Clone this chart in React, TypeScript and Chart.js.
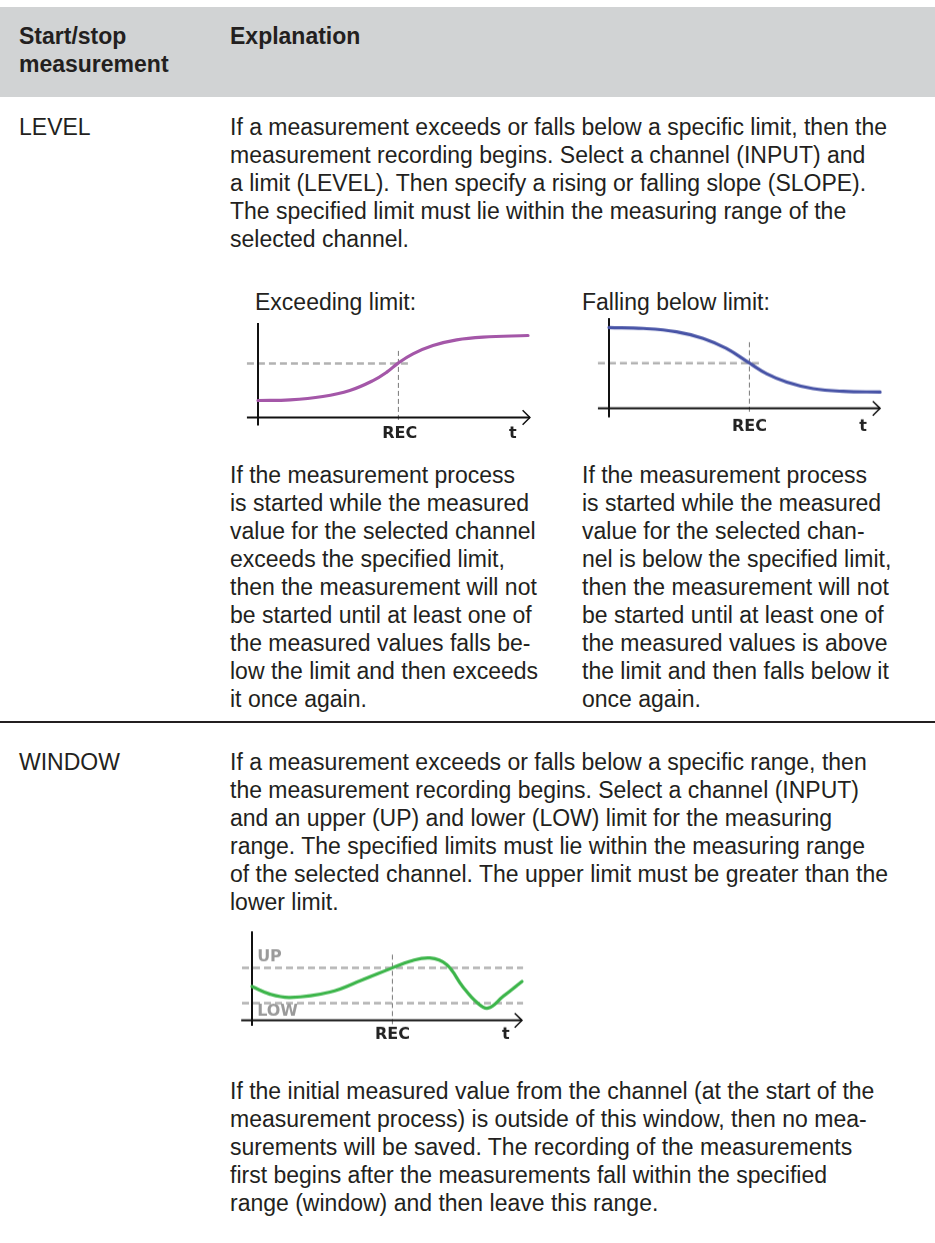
import React, { useEffect, useRef } from "react";
import { Chart, registerables } from "chart.js";

Chart.register(...registerables);

// ---------- data ----------
const exceedT = [0, 1.19, 2.4, 3.4, 4.26, 4.77, 5.19, 5.74, 6.48, 7.36, 8.33, 10];
const exceedV = [1.89, 1.96, 2.33, 3.0, 4.1, 5.04, 6.04, 7.07, 8.0, 8.63, 8.93, 9.11];
const exceedLimit = 6;

const fallT = [0, 1.27, 2.5, 3.49, 4.35, 5.19, 5.83, 6.58, 7.56, 8.67, 10.04];
const fallV = [8.96, 8.85, 8.48, 7.74, 6.63, 5.04, 3.85, 2.92, 2.19, 1.89, 1.81];
const fallLimit = 5;

const windowT = [0, 0.67, 1.41, 2.89, 4.1, 5.19, 5.85, 6.59, 7.21, 7.8, 8.33, 8.74, 9.3, 10];
const windowV = [3.76, 2.9, 2.54, 3.13, 4.5, 5.8, 6.54, 6.91, 6.17, 3.76, 1.99, 1.36, 2.65, 4.32];
const windowUp = 5.8;
const windowLow = 1.9;

const recTime = 5.2;
const axisLabels = ["REC", "t"];
const limitLabels = ["UP", "LOW"];

const headerCol1 = ["Start/stop", "measurement"];
const headerCol2 = ["Explanation"];

const levelPara = [
  "If a measurement exceeds or falls below a specific limit, then the",
  "measurement recording begins. Select a channel (INPUT) and",
  "a limit (LEVEL). Then specify a rising or falling slope (SLOPE).",
  "The specified limit must lie within the measuring range of the",
  "selected channel.",
];
const leftCol = [
  "If the measurement process",
  "is started while the measured",
  "value for the selected channel",
  "exceeds the specified limit,",
  "then the measurement will not",
  "be started until at least one of",
  "the measured values falls be-",
  "low the limit and then exceeds",
  "it once again.",
];
const rightCol = [
  "If the measurement process",
  "is started while the measured",
  "value for the selected chan-",
  "nel is below the specified limit,",
  "then the measurement will not",
  "be started until at least one of",
  "the measured values is above",
  "the limit and then falls below it",
  "once again.",
];
const windowPara = [
  "If a measurement exceeds or falls below a specific range, then",
  "the measurement recording begins. Select a channel (INPUT)",
  "and an upper (UP) and lower (LOW) limit for the measuring",
  "range. The specified limits must lie within the measuring range",
  "of the selected channel. The upper limit must be greater than the",
  "lower limit.",
];
const bottomPara = [
  "If the initial measured value from the channel (at the start of the",
  "measurement process) is outside of this window, then no mea-",
  "surements will be saved. The recording of the measurements",
  "first begins after the measurements fall within the specified",
  "range (window) and then leave this range.",
];

// ---------- styles ----------
const FONT = '"Liberation Sans", Arial, Helvetica, sans-serif';
const TEXT_COLOR = "#231f20";
const FS = 23;
const LH = 28;

type Pt = { x: number; y: number };
const zip = (t: number[], v: number[]): Pt[] => t.map((x, i) => ({ x, y: v[i] }));

type Label = { text: string; x: number; y: number; align: CanvasTextAlign; color: string; font: string };

type DiagramProps = {
  ox: number;
  oy: number;
  sx: number;
  sy: number;
  xMin: number;
  xMax: number;
  yMin: number;
  yMax: number;
  curve: Pt[];
  color: string;
  limits: { v: number; from: number; to: number }[];
  rec: { from: number; to: number };
  yAxis: { from: number; to: number };
  xAxis: { from: number; to: number };
  labels: Label[];
};

const labelPlugin = {
  id: "diagramLabels",
  afterDatasetsDraw(chart: any, _args: any, opts: any) {
    const { ctx, scales } = chart;
    const labels: Label[] = opts.labels || [];
    ctx.save();
    labels.forEach((l) => {
      ctx.font = l.font;
      ctx.fillStyle = l.color;
      ctx.textAlign = l.align;
      ctx.textBaseline = "middle";
      ctx.fillText(l.text, scales.x.getPixelForValue(l.x), scales.y.getPixelForValue(l.y));
    });
    ctx.restore();
  },
};

function Diagram(p: DiagramProps) {
  const ref = useRef<HTMLCanvasElement | null>(null);
  const left = p.ox + p.xMin * p.sx;
  const top = p.oy - p.yMax * p.sy;
  const width = (p.xMax - p.xMin) * p.sx;
  const height = (p.yMax - p.yMin) * p.sy;

  useEffect(() => {
    if (!ref.current) return;
    const xEnd = p.xAxis.to;
    const datasets: any[] = [
      {
        data: p.curve,
        borderColor: p.color,
        borderWidth: 3.2,
        pointRadius: 0,
        tension: 0.4,
        fill: false,
        borderCapStyle: "round",
      },
      {
        data: [
          { x: 0, y: p.yAxis.from },
          { x: 0, y: p.yAxis.to },
        ],
        borderColor: "#111111",
        borderWidth: 2,
        pointRadius: 0,
      },
      {
        data: [
          { x: p.xAxis.from, y: 0 },
          { x: xEnd, y: 0 },
        ],
        borderColor: "#111111",
        borderWidth: 2,
        pointRadius: 0,
      },
      {
        data: [
          { x: xEnd - 0.27, y: 0.8 },
          { x: xEnd, y: 0 },
          { x: xEnd - 0.27, y: -0.8 },
        ],
        borderColor: "#111111",
        borderWidth: 1.5,
        pointRadius: 0,
        tension: 0,
      },
      {
        data: [
          { x: recTime, y: p.rec.from },
          { x: recTime, y: p.rec.to },
        ],
        borderColor: "#777777",
        borderWidth: 1,
        borderDash: [5, 3],
        pointRadius: 0,
      },
      ...p.limits.map((l) => ({
        data: [
          { x: l.from, y: l.v },
          { x: l.to, y: l.v },
        ],
        borderColor: "#b2b2b2",
        borderWidth: 2.5,
        borderDash: [7, 4],
        pointRadius: 0,
      })),
    ];
    datasets.forEach((d) => (d.clip = false));
    const chart = new Chart(ref.current, {
      type: "line",
      data: { datasets },
      options: {
        animation: false,
        responsive: false,
        devicePixelRatio: 1,
        layout: { padding: 0 },
        events: [],
        scales: {
          x: { type: "linear", min: p.xMin, max: p.xMax, display: false },
          y: { type: "linear", min: p.yMin, max: p.yMax, display: false },
        },
        plugins: {
          legend: { display: false },
          tooltip: { enabled: false },
          diagramLabels: { labels: p.labels },
        } as any,
      },
      plugins: [labelPlugin],
    });
    return () => chart.destroy();
  }, []);

  return (
    <canvas
      ref={ref}
      width={width}
      height={height}
      style={{ position: "absolute", left, top, width, height }}
    />
  );
}

function Lines({ lines, x, y, bold }: { lines: string[]; x: number; y: number; bold?: boolean }) {
  return (
    <>
      {lines.map((s, i) => (
        <div
          key={i}
          style={{
            position: "absolute",
            left: x,
            top: y + i * LH - LH / 2,
            height: LH,
            lineHeight: LH + "px",
            fontSize: FS,
            fontWeight: bold ? 700 : 400,
            whiteSpace: "nowrap",
            color: TEXT_COLOR,
          }}
        >
          {s}
        </div>
      ))}
    </>
  );
}

const recFont = 'bold 16px "DejaVu Sans", Verdana, sans-serif';
const limFont = 'bold 16px "DejaVu Sans", Verdana, sans-serif';

export default function App() {
  return (
    <div
      style={{
        position: "absolute",
        left: 0,
        top: 0,
        width: 935,
        height: 1243,
        background: "#ffffff",
        fontFamily: FONT,
        overflow: "hidden",
      }}
    >
      <div style={{ position: "absolute", left: 0, top: 7, width: 935, height: 90, background: "#d1d3d4" }} />
      <Lines lines={headerCol1} x={19} y={36} bold />
      <Lines lines={headerCol2} x={230} y={36} bold />

      <Lines lines={["LEVEL"]} x={19} y={127} />
      <Lines lines={levelPara} x={230} y={127} />
      <Lines lines={["Exceeding limit:"]} x={255} y={302} />
      <Lines lines={["Falling below limit:"]} x={582} y={302} />

      <Diagram
        ox={258}
        oy={417}
        sx={27}
        sy={9}
        xMin={-1}
        xMax={11}
        yMin={-3.5}
        yMax={10.5}
        curve={zip(exceedT, exceedV)}
        color="#a457a8"
        limits={[{ v: exceedLimit, from: -0.41, to: 5.63 }]}
        rec={{ from: 7.4, to: -0.33 }}
        yAxis={{ from: 10.9, to: -0.9 }}
        xAxis={{ from: -0.41, to: 10.07 }}
        labels={[
          { text: axisLabels[0], x: recTime + 0.05, y: -1.85, align: "center", color: "#222", font: recFont },
          { text: axisLabels[1], x: 9.44, y: -1.85, align: "center", color: "#222", font: recFont },
        ]}
      />
      <Diagram
        ox={609}
        oy={408}
        sx={27}
        sy={9}
        xMin={-1}
        xMax={11}
        yMin={-3.5}
        yMax={11}
        curve={zip(fallT, fallV)}
        color="#4753a6"
        limits={[{ v: fallLimit, from: -0.41, to: 5.6 }]}
        rec={{ from: 7.33, to: -0.44 }}
        yAxis={{ from: 10, to: -1 }}
        xAxis={{ from: -0.41, to: 10.04 }}
        labels={[
          { text: axisLabels[0], x: recTime, y: -2, align: "center", color: "#222", font: recFont },
          { text: axisLabels[1], x: 9.41, y: -2, align: "center", color: "#222", font: recFont },
        ]}
      />

      <Lines lines={leftCol} x={230} y={475} />
      <Lines lines={rightCol} x={582} y={475} />

      <div style={{ position: "absolute", left: 0, top: 721, width: 935, height: 2, background: "#231f20" }} />

      <Lines lines={["WINDOW"]} x={19} y={762} />
      <Lines lines={windowPara} x={230} y={762} />

      <Diagram
        ox={252}
        oy={1020}
        sx={27}
        sy={9}
        xMin={-1}
        xMax={11}
        yMin={-3.5}
        yMax={11}
        curve={zip(windowT, windowV)}
        color="#3cb54a"
        limits={[
          { v: windowUp, from: -0.37, to: 10.04 },
          { v: windowLow, from: -0.37, to: 10.04 },
        ]}
        rec={{ from: 7.28, to: -0.6 }}
        yAxis={{ from: 9.87, to: -0.6 }}
        xAxis={{ from: -0.4, to: 10.0 }}
        labels={[
          { text: limitLabels[0], x: 0.19, y: 7.0, align: "left", color: "#9a9a9a", font: limFont },
          { text: limitLabels[1], x: 0.19, y: 0.95, align: "left", color: "#9a9a9a", font: limFont },
          { text: axisLabels[0], x: recTime, y: -1.6, align: "center", color: "#222", font: recFont },
          { text: axisLabels[1], x: 9.4, y: -1.6, align: "center", color: "#222", font: recFont },
        ]}
      />

      <Lines lines={bottomPara} x={230} y={1091} />
    </div>
  );
}
